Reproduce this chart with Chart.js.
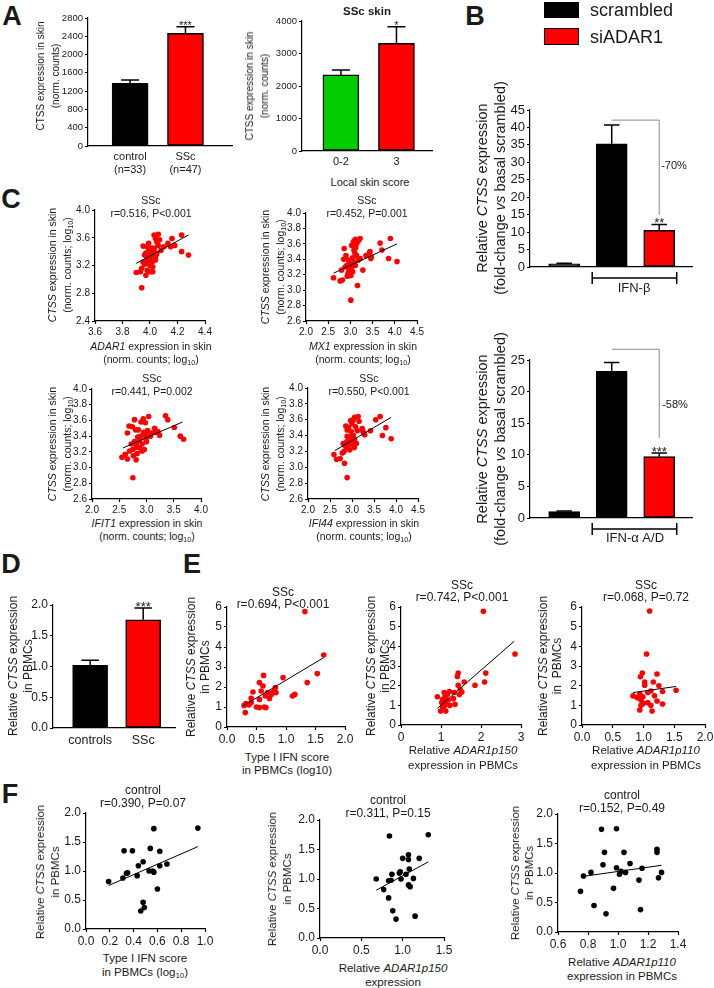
<!DOCTYPE html>
<html>
<head>
<meta charset="utf-8">
<script src="https://cdn.jsdelivr.net/npm/chart.js@4.4.0/dist/chart.umd.min.js"></script>
<style>
    body { margin: 0; background: #fff; }
    #page { position: relative; width: 714px; height: 988px; overflow: hidden;
            font-family: "Liberation Sans", Arial, sans-serif; color: #1a1a1a; }
    #page canvas { position: absolute; }
    .t { position: absolute; white-space: nowrap; text-align: center; transform: translate(-50%, -50%); }
    .rot { transform: translate(-50%, -50%) rotate(-90deg); }
    .left { text-align: left; transform: translate(0, -50%); }
    .letter { font-weight: bold; }
    sub { font-size: 0.68em; line-height: 0; vertical-align: -0.3em; }
    .box { position: absolute; box-sizing: border-box; border: 1px solid #000; }
</style>
</head>
<body>
<div id="page"></div>

<script>
// ---- panel A: CTSS in skin
const skinGroups = [['control', '(n=33)'], ['SSc', '(n=47)']];
const skinCtss = [1370, 2465];
const skinCtssSem = [75, 145];
const skinStars = ['', '***'];

const scoreGroups = ['0-2', '3'];
const scoreCtss = [2340, 3310];
const scoreCtssSem = [155, 515];
const scoreStars = ['', '*'];

// ---- panel B: fibroblasts, basal / IFN + scrambled / IFN + siADAR1
const ifnGroups = ['basal', 'scrambled', 'siADAR1'];
const ifnbCtss = [0.9, 35.3, 10.5];
const ifnbSem = [0.2, 5.4, 1.7];
const ifnbStars = ['', '', '**'];
const ifnaCtss = [1.0, 23.2, 9.7];
const ifnaSem = [0.1, 1.4, 0.6];
const ifnaStars = ['', '', '***'];

// ---- panel C: skin correlations [gene, CTSS] (log10)
const adar1Skin = [[3.90,3.10],[3.93,3.11],[3.94,3.16],[3.97,3.06],[3.94,2.88],[3.95,3.48],[3.98,3.47],[3.99,3.41],
    [3.96,3.35],[3.98,3.29],[3.99,3.23],[4.00,3.20],[4.01,3.35],[4.02,3.26],[3.99,3.52],[4.03,3.64],[4.04,3.59],
    [4.05,3.54],[4.06,3.49],[4.03,3.45],[4.05,3.37],[4.04,3.33],[4.02,3.18],[4.02,3.11],[4.08,3.42],[4.10,3.47],
    [4.07,3.57],[4.06,3.65],[4.15,3.47],[4.18,3.49],[4.16,3.59],[4.23,3.64],[4.23,3.40],[4.28,3.35],[4.13,3.52],
    [4.00,3.11],[3.98,3.13],[4.01,3.39],[3.97,3.38],[3.95,3.25],[4.00,3.30],[4.03,3.40],[4.01,3.45],[3.96,3.22],
    [4.04,3.28],[3.99,3.33]];
const adar1Fit = [[3.90,3.23],[4.28,3.64]];

const mx1Skin = [[2.62,3.16],[2.80,3.26],[2.82,3.13],[2.77,3.12],[2.86,3.54],[2.90,3.45],[2.95,3.39],[2.92,3.32],
    [2.97,3.26],[3.01,3.19],[3.03,3.30],[3.07,3.36],[3.03,3.58],[3.07,3.63],[3.11,3.66],[3.14,3.60],[3.18,3.64],
    [3.22,3.67],[3.08,3.52],[3.14,3.45],[3.18,3.39],[3.11,3.32],[3.05,3.24],[3.01,2.87],[3.16,3.06],[3.28,3.26],
    [3.22,3.41],[3.44,3.50],[3.41,3.45],[3.47,3.43],[3.46,3.41],[3.71,3.52],[3.67,3.61],[3.86,3.41],[3.90,3.67],
    [4.05,3.37],[3.43,3.48],[2.85,3.40],[2.93,3.18],[2.98,3.35],[3.00,3.28],[3.05,3.42],[3.10,3.48],[2.88,3.30],
    [3.12,3.55],[2.95,3.22],[3.35,3.45]];
const mx1Fit = [[2.62,3.22],[4.05,3.60]];

const ifit1Skin = [[2.55,3.13],[2.61,3.17],[2.65,3.11],[2.69,3.21],[2.75,3.23],[2.65,3.44],[2.68,3.53],[2.74,3.52],
    [2.78,3.61],[2.80,3.48],[2.78,3.33],[2.81,3.30],[2.84,3.39],[2.87,3.34],[2.81,3.26],[2.76,3.15],[2.81,3.10],
    [2.75,2.87],[2.90,3.40],[2.92,3.30],[2.92,3.21],[2.96,3.23],[2.90,3.58],[2.94,3.62],[2.98,3.57],[2.99,3.41],
    [2.99,3.36],[3.02,3.47],[3.04,3.65],[3.07,3.40],[3.15,3.50],[3.16,3.45],[3.21,3.46],[3.24,3.41],[3.35,3.66],
    [3.39,3.61],[3.51,3.51],[3.62,3.40],[3.68,3.36],[2.72,3.30],[2.85,3.48],[2.88,3.25],[2.95,3.45],[3.00,3.33],
    [2.83,3.18],[3.10,3.44]];
const ifit1Fit = [[2.57,3.25],[3.66,3.58]];

const ifi44Skin = [[2.59,3.16],[2.65,3.10],[2.73,3.11],[2.78,3.18],[2.82,3.20],[2.86,3.26],[2.83,3.05],[2.89,2.87],
    [2.86,3.52],[2.89,3.47],[2.89,3.39],[2.88,3.32],[2.93,3.29],[2.91,3.24],[2.95,3.22],[2.97,3.59],[3.03,3.60],
    [3.06,3.63],[3.14,3.64],[3.08,3.51],[3.12,3.46],[3.03,3.40],[3.06,3.35],[3.01,3.29],[3.05,3.25],[3.23,3.49],
    [3.25,3.45],[3.29,3.41],[3.27,3.43],[3.42,3.46],[3.54,3.60],[3.64,3.64],[3.69,3.40],[3.77,3.50],[3.89,3.36],
    [2.80,3.30],[2.95,3.38],[2.98,3.45],[3.00,3.55],[2.92,3.50],[3.10,3.30],[2.84,3.28],[2.97,3.33],[3.16,3.58]];
const ifi44Fit = [[2.61,3.21],[3.89,3.63]];

// ---- panel D: PBMCs
const pbmcGroups = ['controls', 'SSc'];
const pbmcCtss = [1.02, 1.76];
const pbmcSem = [0.08, 0.19];
const pbmcStars = ['', '***'];

// ---- panel E: SSc PBMC correlations [x, CTSS]
const ifnScoreSsc = [[1.32,5.77],[1.64,3.60],[0.31,0.72],[0.29,1.08],[0.32,1.17],[0.37,1.10],[0.41,1.22],[0.44,1.75],
    [0.41,1.43],[0.50,1.00],[0.55,0.97],[0.63,1.00],[0.66,0.97],[0.55,1.38],[0.58,1.80],[0.55,2.22],[0.61,2.05],
    [0.62,2.58],[0.65,1.55],[0.69,1.72],[0.72,1.43],[0.75,1.63],[0.77,1.72],[0.80,1.80],[0.82,1.97],[0.83,1.72],
    [0.95,2.47],[1.11,1.55],[1.15,1.63],[1.36,2.22],[1.53,2.67]];
const ifnScoreSscFit = [[0.27,1.05],[1.64,3.47]];

const p150Ssc = [[2.06,5.78],[2.85,3.61],[2.12,2.64],[2.09,2.19],[1.85,2.02],[1.58,2.19],[1.43,2.64],[1.41,2.47],
    [1.43,2.02],[1.48,1.82],[1.52,1.68],[1.46,1.55],[1.33,1.65],[1.21,1.70],[1.16,1.56],[1.08,1.65],[1.10,1.44],
    [0.91,1.44],[1.02,1.14],[1.12,1.17],[1.18,1.27],[1.31,1.34],[1.35,1.05],[1.22,1.00],[1.04,0.88],[0.99,0.71],
    [1.12,0.71],[1.08,0.97],[1.04,1.30]];
const p150SscFit = [[0.91,0.85],[2.83,4.26]];

const p110Ssc = [[1.10,5.80],[1.05,3.61],[0.98,2.64],[0.95,2.45],[1.22,2.59],[1.02,2.19],[1.02,2.02],[1.16,2.19],
    [1.25,1.99],[1.31,1.70],[1.53,1.77],[1.12,1.73],[1.07,1.65],[0.94,1.56],[0.99,1.44],[0.83,1.48],[0.90,1.39],
    [0.96,1.27],[1.07,1.14],[1.22,1.22],[1.31,1.07],[0.96,1.00],[1.12,1.00],[0.94,0.76],[1.14,0.71],[1.00,1.10],
    [1.18,1.49]];
const p110SscFit = [[0.83,1.65],[1.53,1.96]];

// ---- panel F: control PBMC correlations
const ifnScoreCtrl = [[0.19,0.82],[0.31,0.88],[0.32,1.35],[0.34,0.96],[0.35,0.97],[0.39,1.35],[0.43,0.92],[0.44,1.09],
    [0.48,1.16],[0.46,0.31],[0.48,0.46],[0.49,0.37],[0.54,1.39],[0.53,1.00],[0.56,1.00],[0.57,1.73],[0.60,0.69],
    [0.62,1.34],[0.62,1.09],[0.68,1.12],[0.94,1.74],[0.57,0.98]];
const ifnScoreCtrlFit = [[0.19,0.75],[0.94,1.42]];

const p150Ctrl = [[0.84,1.73],[1.31,1.75],[0.68,1.00],[0.77,0.82],[0.83,0.68],[0.83,0.97],[0.86,0.98],[0.87,1.08],
    [0.96,1.10],[0.97,1.12],[0.98,1.00],[1.00,1.35],[1.07,1.33],[1.07,1.41],[1.08,1.17],[1.07,0.90],[1.09,0.87],
    [1.13,1.01],[1.20,1.35],[0.88,0.46],[0.92,0.32],[1.15,0.37],[1.04,1.08]];
const p150CtrlFit = [[0.68,0.81],[1.31,1.29]];

const p110Ctrl = [[0.75,0.69],[0.77,0.95],[0.82,1.01],[0.84,0.45],[0.89,1.74],[0.90,1.14],[0.91,1.35],[0.92,0.31],
    [0.97,0.74],[0.99,1.75],[0.99,1.09],[1.01,0.98],[1.02,1.03],[1.04,1.35],[1.05,1.01],[1.08,1.16],[1.16,1.08],
    [1.14,0.88],[1.15,0.38],[1.26,1.40],[1.26,1.35],[1.27,0.92],[1.29,1.01]];
const p110CtrlFit = [[0.76,0.94],[1.29,1.13]];

const INK = '#1a1a1a';
const RED = '#ff0000';
const page = document.getElementById('page');
Chart.defaults.font.family = '"Liberation Sans", Arial, sans-serif';
Chart.defaults.color = INK;

function text(html, x, y, size, opts) {
    opts = opts || {};
    const d = document.createElement('div');
    d.className = 't' + (opts.rot ? ' rot' : '') + (opts.left ? ' left' : '') + (opts.cls ? ' ' + opts.cls : '');
    d.innerHTML = html;
    d.style.left = x + 'px';
    d.style.top = y + 'px';
    d.style.fontSize = size + 'px';
    d.style.lineHeight = (opts.lh || Math.round(size * 1.2)) + 'px';
    page.appendChild(d);
}

// draws up-only error bars and the significance stars above them
const errorBars = {
    id: 'errorBars',
    afterDatasetsDraw(chart) {
        const ctx = chart.ctx;
        const y = chart.scales.y;
        chart.data.datasets.forEach((ds, i) => {
            if (!ds.sem) return;
            chart.getDatasetMeta(i).data.forEach((bar, j) => {
                const top = y.getPixelForValue(ds.data[j] + ds.sem[j]);
                const half = bar.width / 4;
                ctx.save();
                ctx.strokeStyle = '#000';
                ctx.lineWidth = 1.5;
                ctx.beginPath();
                ctx.moveTo(bar.x, bar.y);
                ctx.lineTo(bar.x, top);
                ctx.moveTo(bar.x - half, top);
                ctx.lineTo(bar.x + half, top);
                ctx.stroke();
                if (ds.stars && ds.stars[j]) {
                    ctx.fillStyle = INK;
                    ctx.font = ds.starSize + 'px "Liberation Sans", Arial, sans-serif';
                    ctx.textAlign = 'center';
                    ctx.textBaseline = 'alphabetic';
                    ctx.fillText(ds.stars[j], bar.x, top + ds.starSize * 0.2);
                }
                ctx.restore();
            });
        });
    }
};
Chart.register(errorBars);

// bracket under the treated bars and the grey comparison line
const ifnMarks = {
    id: 'ifnMarks',
    afterDraw(chart, args, opts) {
        if (!opts || opts.from === undefined) return;
        const ctx = chart.ctx;
        const y = chart.scales.y;
        const bars = chart.getDatasetMeta(0).data;
        const a = bars[opts.from], b = bars[opts.to];
        const yb = chart.chartArea.bottom + 11;
        const x1 = a.x - a.width / 2 - 4, x2 = b.x + b.width / 2 + 2;
        ctx.save();
        ctx.strokeStyle = '#000';
        ctx.lineWidth = 1.5;
        ctx.beginPath();
        ctx.moveTo(x1, yb - 6); ctx.lineTo(x1, yb + 6);
        ctx.moveTo(x1, yb); ctx.lineTo(x2, yb);
        ctx.moveTo(x2, yb - 6); ctx.lineTo(x2, yb + 6);
        ctx.stroke();
        ctx.strokeStyle = '#8a8a8a';
        ctx.lineWidth = 1;
        ctx.beginPath();
        ctx.moveTo(a.x, y.getPixelForValue(opts.top));
        ctx.lineTo(b.x, y.getPixelForValue(opts.top));
        ctx.lineTo(b.x, y.getPixelForValue(opts.bottom));
        ctx.stroke();
        ctx.restore();
    }
};
Chart.register(ifnMarks);

// area = plot area [left, top, right, bottom] on the page, pad = room for [y axis, top, right, x axis]
function place(area, pad, config) {
    const [l, t, r, b] = area;
    const [ml, mt, mr, mb] = pad;
    const canvas = document.createElement('canvas');
    canvas.width = r - l + ml + mr;
    canvas.height = b - t + mt + mb;
    canvas.style.left = (l - ml) + 'px';
    canvas.style.top = (t - mt) + 'px';
    page.appendChild(canvas);
    const o = config.options;
    o.responsive = false;
    o.animation = false;
    o.events = [];
    o.layout = { autoPadding: false, padding: { left: 0, top: mt, right: mr, bottom: 0 } };
    o.scales.x.afterFit = s => { s.height = mb; };
    o.scales.y.afterFit = s => { s.width = ml; };
    o.plugins = Object.assign({ legend: { display: false }, tooltip: { enabled: false } }, o.plugins);
    return new Chart(canvas, config);
}

function numAxis(min, max, step, size, digits) {
    return {
        type: 'linear', min, max,
        ticks: { stepSize: step, font: { size }, color: INK, padding: 2, autoSkip: false, maxRotation: 0,
                 callback: v => v.toFixed(digits) },
        grid: { drawOnChartArea: false, tickLength: 3, tickColor: '#000', tickWidth: 1.2 },
        border: { color: '#000', width: 1.2 }
    };
}

// category axis with extra room before the first and after the last bar
function catAxis(size, padL, padR, labelPad) {
    return {
        type: 'category',
        grid: { display: false, drawTicks: false },
        border: { color: '#000', width: 1.2 },
        ticks: { display: size > 0, font: { size }, color: INK, padding: labelPad, maxRotation: 0, autoSkip: false },
        afterBuildTicks: s => { s._startValue -= padL; s._valueRange += padL + padR; }
    };
}

function bars(area, pad, labels, values, sem, stars, colors, thick, starSize, x, y, marks) {
    return place(area, pad, {
        type: 'bar',
        data: {
            labels,
            datasets: [{
                data: values, sem, stars, starSize,
                backgroundColor: colors, borderColor: '#000', borderWidth: 1.5,
                borderSkipped: false, barThickness: thick
            }]
        },
        options: { scales: { x, y }, plugins: { ifnMarks: marks || {} } }
    });
}

function scatter(area, pad, points, fit, color, x, y) {
    return place(area, pad, {
        type: 'scatter',
        data: {
            datasets: [
                { data: fit.map(([a, b]) => ({ x: a, y: b })), showLine: true, pointRadius: 0,
                  borderColor: '#000', borderWidth: 1, order: 0, clip: false },
                { data: points.map(([a, b]) => ({ x: a, y: b })), backgroundColor: color,
                  borderWidth: 0, pointRadius: 2.8, order: 1, clip: false }
            ]
        },
        options: { scales: { x, y } }
    });
}

// ---------- A
bars([88, 18, 232, 146], [40, 12, 12, 34], skinGroups, skinCtss, skinCtssSem, skinStars,
     ['#000', RED], 36, 11, catAxis(11, 0.26, 0.34, 4), numAxis(0, 2800, 400, 9.5, 0));
bars([302, 21, 432, 151], [40, 14, 12, 22], scoreGroups, scoreCtss, scoreCtssSem, scoreStars,
     ['#00cc00', RED], 36, 11, catAxis(11, 0.2, 0.14, 4), numAxis(0, 4000, 1000, 9.5, 0));

// ---------- B
bars([530, 110, 692, 267], [40, 12, 12, 24], ifnGroups, ifnbCtss, ifnbSem, ifnbStars,
     ['#000', '#000', RED], 31, 13, catAxis(0, 0.22, 0.19, 0), numAxis(0, 45, 5, 13, 0),
     { from: 1, to: 2, top: 42.1, bottom: 14.9 });
bars([530, 360, 692, 518], [40, 16, 12, 24], ifnGroups, ifnaCtss, ifnaSem, ifnaStars,
     ['#000', '#000', RED], 31, 13, catAxis(0, 0.22, 0.19, 0), numAxis(0, 25, 5, 13, 0),
     { from: 1, to: 2, top: 26.7, bottom: 12.7 });

// ---------- C
scatter([95, 210, 205, 321], [30, 9, 12, 18], adar1Skin, adar1Fit, RED, numAxis(3.6, 4.4, 0.2, 10, 1), numAxis(2.4, 4.0, 0.4, 10, 1));
scatter([306, 213, 417, 321], [30, 9, 12, 18], mx1Skin, mx1Fit, RED, numAxis(2.0, 4.5, 0.5, 10, 1), numAxis(2.6, 4.0, 0.2, 10, 1));
scatter([92, 389, 201, 499], [30, 9, 12, 18], ifit1Skin, ifit1Fit, RED, numAxis(2.0, 4.0, 0.5, 10, 1), numAxis(2.6, 4.0, 0.2, 10, 1));
scatter([308, 388, 418, 499], [30, 9, 12, 18], ifi44Skin, ifi44Fit, RED, numAxis(2.0, 4.5, 0.5, 10, 1), numAxis(2.6, 4.0, 0.2, 10, 1));

// ---------- D
bars([53, 605, 175, 728], [40, 16, 10, 24], pbmcGroups, pbmcCtss, pbmcSem, pbmcStars,
     ['#000', RED], 35, 13, catAxis(12.5, 0.2, 0.1, 5), numAxis(0, 2, 0.5, 12, 1));

// ---------- E
scatter([227, 607, 345, 727], [30, 10, 14, 20], ifnScoreSsc, ifnScoreSscFit, RED, numAxis(0, 2, 0.5, 12, 1), numAxis(0, 6, 1, 12, 0));
scatter([401, 607, 521, 725], [30, 10, 14, 20], p150Ssc, p150SscFit, RED, numAxis(0, 3, 1, 12, 0), numAxis(0, 6, 1, 12, 0));
scatter([582, 607, 705, 725], [30, 10, 14, 20], p110Ssc, p110SscFit, RED, numAxis(0, 2, 0.5, 12, 1), numAxis(0, 6, 1, 12, 0));

// ---------- F
scatter([86, 813, 205, 929], [36, 10, 14, 20], ifnScoreCtrl, ifnScoreCtrlFit, '#000', numAxis(0, 1, 0.2, 12, 1), numAxis(0, 2, 0.5, 12, 1));
scatter([320, 820, 444, 938], [36, 10, 14, 20], p150Ctrl, p150CtrlFit, '#000', numAxis(0, 1.5, 0.5, 12, 1), numAxis(0, 2, 0.5, 12, 1));
scatter([558, 814, 678, 932], [36, 10, 14, 20], p110Ctrl, p110CtrlFit, '#000', numAxis(0.6, 1.4, 0.2, 12, 1), numAxis(0, 2, 0.5, 12, 1));

// ---------- texts
const L = { cls: 'letter' };
text('A', 12, 16, 27, L);
text('B', 475, 16, 27, L);
text('C', 11, 199, 27, L);
text('D', 11, 564, 27, L);
text('E', 192, 564, 27, L);
text('F', 10, 794, 27, L);

// A
text('CTSS expression in skin<br>(norm. counts)', 48, 76, 10, { rot: true, lh: 15 });
text('CTSS expression in skin<br>(norm. counts)', 257, 86, 10, { rot: true, lh: 15 });
text('<b>SSc skin</b>', 367, 11, 11.5);
text('Local skin score', 370, 182, 11);

// B legend
const k1 = document.createElement('div');
k1.className = 'box'; k1.style.cssText = 'left:544px;top:2px;width:35px;height:16px;background:#000;';
page.appendChild(k1);
const k2 = document.createElement('div');
k2.className = 'box'; k2.style.cssText = 'left:544px;top:28px;width:35px;height:17px;background:' + RED + ';';
page.appendChild(k2);
text('scrambled', 590, 10, 18, { left: true });
text('siADAR1', 590, 37, 18, { left: true });

text('Relative <i>CTSS</i> expression<br>(fold-change <i>vs</i> basal scrambled)', 491, 188, 14.5, { rot: true, lh: 18 });
text('Relative <i>CTSS</i> expression<br>(fold-change <i>vs</i> basal scrambled)', 491, 439, 14.5, { rot: true, lh: 18 });
text('IFN-β', 634, 288, 13);
text('IFN-α A/D', 635, 538, 13);
text('-70%', 674, 165, 11);
text('-58%', 675, 404, 11);

// C
const skinY = '<i>CTSS</i> expression in skin<br>(norm. counts; log<sub>10</sub>)';
const C = { lh: 12.5 };
text('SSc<br>r=0.516, P&lt;0.001', 151, 206, 10.5, C);
text('SSc<br>r=0.452, P=0.001', 367, 206, 10.5, C);
text('SSc<br>r=0.441, P=0.002', 152, 384, 10.5, C);
text('SSc<br>r=0.550, P&lt;0.001', 369, 384, 10.5, C);
text(skinY, 59.5, 265, 10.5, { rot: true, lh: 15 });
text(skinY, 272.5, 267, 10.5, { rot: true, lh: 15 });
text(skinY, 59.5, 444, 10.5, { rot: true, lh: 15 });
text(skinY, 272.5, 444, 10.5, { rot: true, lh: 15 });
text('<i>ADAR1</i> expression in skin<br>(norm. counts; log<sub>10</sub>)', 151, 352.5, 10.5, { lh: 13 });
text('<i>MX1</i> expression in skin<br>(norm. counts; log<sub>10</sub>)', 363, 352.5, 10.5, { lh: 13 });
text('<i>IFIT1</i> expression in skin<br>(norm. counts; log<sub>10</sub>)', 147, 530, 10.5, { lh: 13 });
text('<i>IFI44</i> expression in skin<br>(norm. counts; log<sub>10</sub>)', 364, 530, 10.5, { lh: 13 });

// D
const pbmcY = 'Relative <i>CTSS</i> expression<br>in PBMCs';
text(pbmcY, 21, 666, 12, { rot: true, lh: 15 });

// E
text('SSc<br>r=0.694, P&lt;0.001', 283, 597.5, 12, { lh: 12 });
text('SSc<br>r=0.742, P&lt;0.001', 462, 591, 12, { lh: 12 });
text('SSc<br>r=0.068, P=0.72', 646, 591, 12, { lh: 12 });
text(pbmcY, 198, 667, 12, { rot: true, lh: 14 });
text(pbmcY, 378, 666, 12, { rot: true, lh: 14 });
text('Relative <i>CTSS</i> expression<br>in&nbsp; PBMCs', 550, 666, 12, { rot: true, lh: 14 });
text('Type I IFN score<br>in PBMCs (log10)', 287, 763.5, 11.5, { lh: 13 });
text('Relative <i>ADAR1p150</i><br>expression in PBMCs', 463, 757.5, 11.5, { lh: 15 });
text('Relative <i>ADAR1p110</i><br>expression in PBMCs', 646, 757.5, 11.5, { lh: 15 });

// F
text('control<br>r=0.390, P=0.07', 143, 796.5, 12, { lh: 13 });
text('control<br>r=0.311, P=0.15', 388, 806.5, 12, { lh: 13 });
text('control<br>r=0.152, P=0.49', 622, 801.5, 12, { lh: 13 });
text(pbmcY, 47.5, 872, 11.5, { rot: true, lh: 15 });
text(pbmcY, 280, 879, 11.5, { rot: true, lh: 15 });
text('Relative <i>CTSS</i> expression<br>in&nbsp; PBMCs', 521.5, 873, 11.5, { rot: true, lh: 14 });
text('Type I IFN score<br>in PBMCs (log<sub>10</sub>)', 145, 965, 11.5, { lh: 14 });
text('Relative <i>ADAR1p150</i><br>expression', 393, 975, 11.5, { lh: 14 });
text('Relative <i>ADAR1p110</i><br>expression in PBMCs', 622, 968.5, 11.5, { lh: 14 });
</script>
</body>
</html>
